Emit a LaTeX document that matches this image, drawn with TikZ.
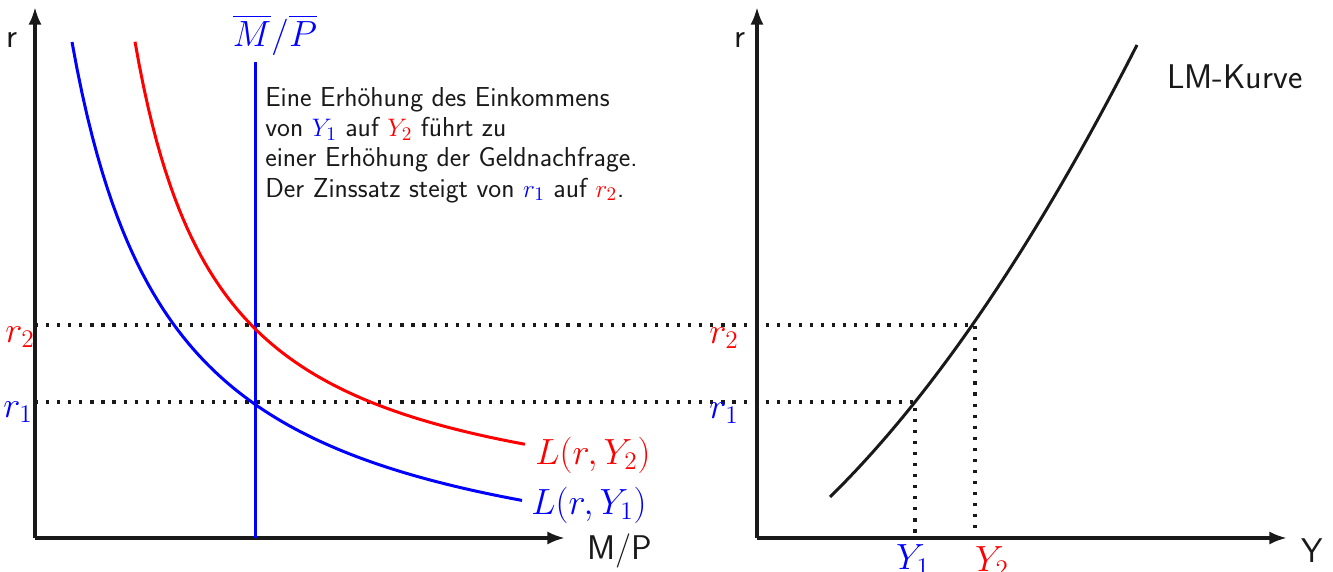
\documentclass[tikz,border=0pt]{standalone}
\usepackage{amsmath}
\usepackage{xcolor}
\usepackage{tikz}
\usetikzlibrary{arrows.meta}

\begin{document}
\begin{tikzpicture}[
  font=\sffamily,
  axis/.style={-{Latex[length=10pt,width=7.5pt]}, line width=2pt, black!90},
  axlbl/.style={font=\fontsize{19.5}{22}\selectfont\sffamily, black!90},
  mlbl/.style={font=\fontsize{20}{23}\selectfont},
  curve/.style={line width=1.7pt},
  guide/.style={line width=1.8pt, dash pattern=on 1.8pt off 4.5pt, black!90},
  txt/.style={align=left, inner sep=0pt, font=\fontsize{15.6}{17.2}\selectfont\sffamily, black!90},
]
\useasboundingbox (0,0) rectangle (26.66,11.44);

%% --- Left panel: money market ---
\coordinate (O1) at (0.7,0.68);
\coordinate (Ytop1) at (0.7,11.3);
\coordinate (Xend1) at (11.3,0.68);
\draw[axis] (O1) -- (Ytop1);
\draw[axis] (O1) -- (Xend1);
\node[axlbl] (rL) at (0.24,10.64) {r};
\node[axlbl] (MP) at (12.4,0.42) {M/P};

%% --- Right panel: LM curve ---
\coordinate (O2) at (15.14,0.68);
\coordinate (Ytop2) at (15.14,11.3);
\coordinate (Xend2) at (25.74,0.68);
\draw[axis] (O2) -- (Ytop2);
\draw[axis] (O2) -- (Xend2);
\node[axlbl] (rR) at (14.8,10.64) {r};
\node[axlbl] (Yax) at (26.24,0.42) {Y};
\node[axlbl] (LM) at (24.7,9.9) {LM-Kurve};

%% --- Guide lines r1, r2, Y1, Y2 ---
\coordinate (r2a) at (0.7,4.94);
\coordinate (r1a) at (0.7,3.4);
\coordinate (P2) at (19.5,4.94);
\coordinate (P1) at (18.3,3.4);
\coordinate (y1a) at (18.3,0.68);
\coordinate (y2a) at (19.5,0.68);
\draw[guide] (r2a) -- (P2) -- (y2a);
\draw[guide] (r1a) -- (P1) -- (y1a);

%% --- Money supply ---
\coordinate (Ms0) at (5.11,0.68);
\coordinate (Ms1) at (5.11,10.2);
\draw[curve, blue] (Ms0) -- (Ms1);
\node[mlbl, blue] (MsLbl) at (5.5,10.74) {$\overline{M}/\overline{P}$};

%% --- Money demand curves ---
\draw[curve, red] plot[domain=2.7:10.5, samples=90] (\x, {0.8+16.669/(\x-1)});
\draw[curve, blue] plot[domain=1.44:10.44, samples=90] (\x, {-0.606+22.411/(\x+0.56)});
\node[mlbl, red] (L2) at (11.86,2.34) {$L(r,Y_2)$};
\node[mlbl, blue] (L1) at (11.78,1.34) {$L(r,Y_1)$};

%% --- LM curve ---
\draw[curve, black!90] plot[domain=16.6:22.74, samples=60]
  (\x, {1.5+0.9818*(\x-16.6)+0.0799*(\x-16.6)^2});

%% --- Axis values ---
\node[mlbl, red] (r2L) at (0.4,4.7) {$r_2$};
\node[mlbl, blue] (r1L) at (0.36,3.2) {$r_1$};
\node[mlbl, red] (r2R) at (14.48,4.68) {$r_2$};
\node[mlbl, blue] (r1R) at (14.48,3.18) {$r_1$};
\node[mlbl, blue] (Y1L) at (18.26,0.24) {$Y_1$};
\node[mlbl, red] (Y2L) at (19.84,0.2) {$Y_2$};

%% --- Explanation ---
\node[txt, anchor=north west] (info) at (5.3,9.7) {Eine Erhöhung des Einkommens\\
  von $\color{blue}Y_1$ auf $\color{red}Y_2$ führt zu\\
  einer Erhöhung der Geldnachfrage.\\
  Der Zinssatz steigt von $\color{blue}r_1$ auf $\color{red}r_2$.};

\end{tikzpicture}
\end{document}
